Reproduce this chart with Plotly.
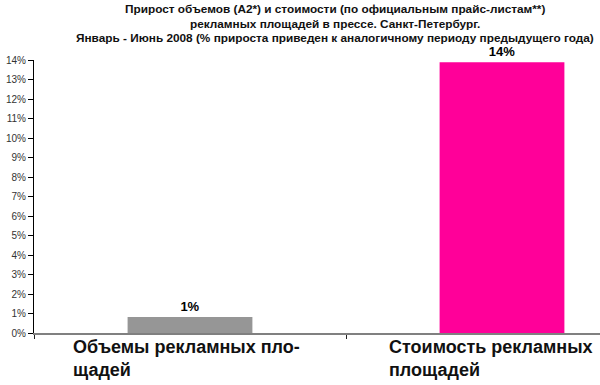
import plotly.graph_objects as go

categories = ["Объемы рекламных пло-<br>щадей", "Стоимость рекламных<br>площадей"]
cat_keys = ["vol", "cost"]
values = [0.82, 13.88]
colors = ["#969696", "#FF0099"]
bar_labels = ["1%", "14%"]
y_ticks = list(range(0, 15))
y_tick_labels = [f"{v}%" for v in y_ticks]
title_lines = [
    "Прирост объемов (А2*) и стоимости (по официальным прайс-листам**)",
    "рекламных площадей в прессе. Санкт-Петербург.",
    "Январь - Июнь 2008 (% прироста приведен к аналогичному периоду предыдущего года)",
]
title_centers_px = [9, 23.5, 38]

FONT = "Arial, Liberation Sans, sans-serif"
TOP = 60
PLOT_H = 385 - TOP - 52

fig = go.Figure()
fig.add_trace(go.Bar(
    x=cat_keys, y=values, marker=dict(color=colors, line=dict(width=0)),
    width=0.40, text=bar_labels, textposition="outside", cliponaxis=False,
    textfont=dict(family=FONT, size=13, color="#000000"),
    texttemplate="<b>%{text}</b>", hoverinfo="skip",
))

label_x = [0.0655, 0.623]
for lx, lab in zip(label_x, categories):
    fig.add_annotation(
        x=lx, xref="paper", y=0, yref="paper", yshift=-2,
        xanchor="left", yanchor="top", align="left", showarrow=False,
        text=f"<b>{lab}</b>", font=dict(family=FONT, size=18, color="#111111"),
    )

for line, cy in zip(title_lines, title_centers_px):
    fig.add_annotation(
        x=0.531, xref="paper", y=1 + (TOP - cy) / PLOT_H, yref="paper",
        xanchor="center", yanchor="middle", showarrow=False, borderpad=0,
        text=f"<b>{line}</b>",
        font=dict(family=FONT, size=11.8, color="#111111"),
    )

fig.update_layout(
    width=600, height=385,
    margin=dict(l=34, r=0, t=TOP, b=52),
    paper_bgcolor="white", plot_bgcolor="white",
    showlegend=False,
    xaxis=dict(
        type="category", categoryorder="array", categoryarray=cat_keys,
        range=[-0.5, -0.5 + 566 / 312], showticklabels=False,
        showline=True, linecolor="#808080", linewidth=1.5,
        ticks="outside", tickson="boundaries", ticklen=4, tickcolor="#222222",
        showgrid=False, zeroline=False, fixedrange=True,
    ),
    yaxis=dict(
        range=[0, 14], tickmode="array", tickvals=y_ticks, ticktext=y_tick_labels,
        showline=True, linecolor="#000000", linewidth=1,
        ticks="outside", ticklen=5, tickcolor="#000000",
        tickfont=dict(family=FONT, size=10, color="#333333"),
        showgrid=False, zeroline=False, fixedrange=True,
    ),
)

fig.write_html("out.html")
